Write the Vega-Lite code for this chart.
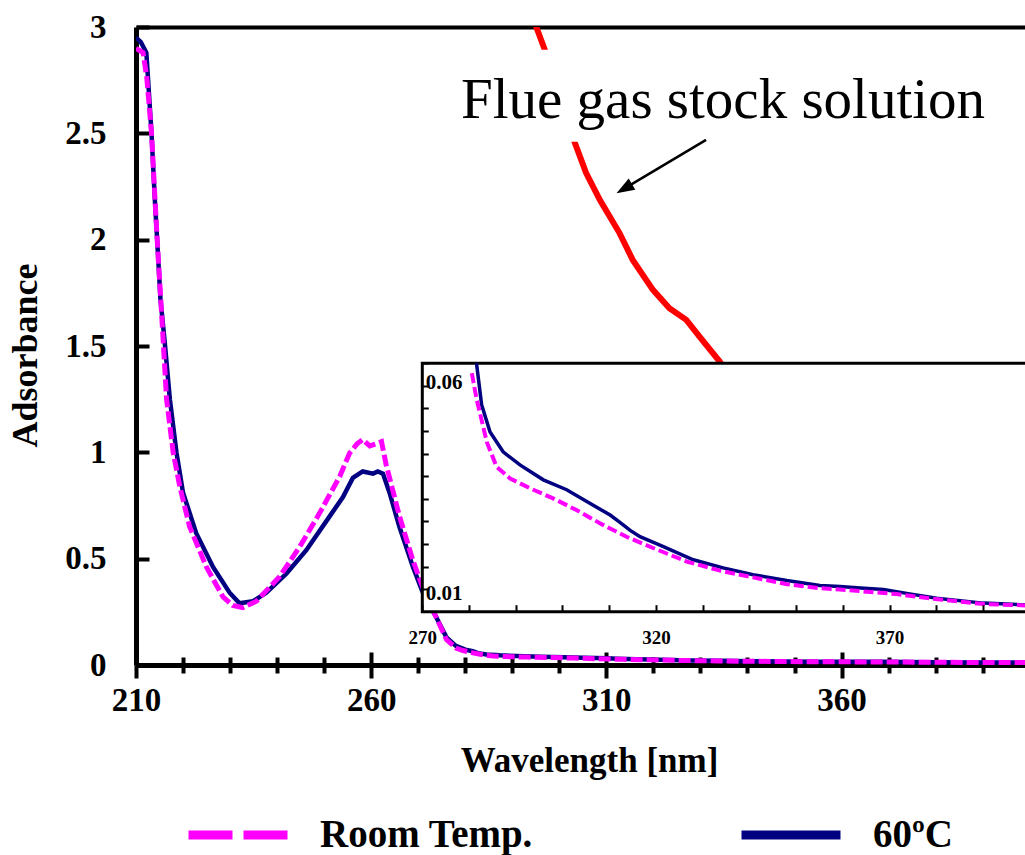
{
  "$schema": "https://vega.github.io/schema/vega-lite/v6.json",
  "width": 889,
  "height": 638,
  "autosize": {"type": "none"},
  "padding": {"left": 136, "top": 27, "right": 0, "bottom": 190},
  "background": "white",
  "config": {
    "view": {"stroke": null},
    "font": "Liberation Serif",
    "axis": {
      "labelFont": "Liberation Serif", "titleFont": "Liberation Serif",
      "labelColor": "black", "titleColor": "black", "domainColor": "black", "tickColor": "black",
      "grid": false, "labelFontWeight": "bold", "titleFontWeight": "bold",
      "labelFlush": false, "labelOverlap": false
    },
    "legend": {
      "orient": "none", "legendX": 48, "legendY": 754, "direction": "horizontal",
      "symbolType": "stroke", "symbolSize": 9801, "symbolStrokeWidth": 9,
      "labelFont": "Liberation Serif", "labelFontWeight": "bold", "labelFontSize": 39, "labelColor": "black",
      "labelOffset": 28, "columnPadding": 189, "labelLimit": 0
    }
  },
  "datasets": {
    "spectra": [
      {"wl": 210, "abs": 2.95, "series": "60ºC"},
      {"wl": 211, "abs": 2.93, "series": "60ºC"},
      {"wl": 212.2, "abs": 2.88, "series": "60ºC"},
      {"wl": 213.3, "abs": 2.5, "series": "60ºC"},
      {"wl": 214.0, "abs": 2.19, "series": "60ºC"},
      {"wl": 214.5, "abs": 2.0, "series": "60ºC"},
      {"wl": 215.2, "abs": 1.72, "series": "60ºC"},
      {"wl": 216.1, "abs": 1.52, "series": "60ºC"},
      {"wl": 217.2, "abs": 1.25, "series": "60ºC"},
      {"wl": 218.6, "abs": 1.0, "series": "60ºC"},
      {"wl": 220.0, "abs": 0.81, "series": "60ºC"},
      {"wl": 222.8, "abs": 0.62, "series": "60ºC"},
      {"wl": 226.4, "abs": 0.46, "series": "60ºC"},
      {"wl": 229.9, "abs": 0.34, "series": "60ºC"},
      {"wl": 232.0, "abs": 0.29, "series": "60ºC"},
      {"wl": 234.9, "abs": 0.3, "series": "60ºC"},
      {"wl": 237.7, "abs": 0.34, "series": "60ºC"},
      {"wl": 242.0, "abs": 0.43, "series": "60ºC"},
      {"wl": 246.2, "abs": 0.54, "series": "60ºC"},
      {"wl": 251.2, "abs": 0.7, "series": "60ºC"},
      {"wl": 254.0, "abs": 0.79, "series": "60ºC"},
      {"wl": 256.1, "abs": 0.88, "series": "60ºC"},
      {"wl": 258.2, "abs": 0.91, "series": "60ºC"},
      {"wl": 260.4, "abs": 0.9, "series": "60ºC"},
      {"wl": 261.4, "abs": 0.91, "series": "60ºC"},
      {"wl": 262.5, "abs": 0.9, "series": "60ºC"},
      {"wl": 263.9, "abs": 0.81, "series": "60ºC"},
      {"wl": 266.0, "abs": 0.65, "series": "60ºC"},
      {"wl": 268.9, "abs": 0.46, "series": "60ºC"},
      {"wl": 271.0, "abs": 0.34, "series": "60ºC"},
      {"wl": 273.7, "abs": 0.23, "series": "60ºC"},
      {"wl": 276.0, "abs": 0.13, "series": "60ºC"},
      {"wl": 278.0, "abs": 0.09, "series": "60ºC"},
      {"wl": 280.0, "abs": 0.072, "series": "60ºC"},
      {"wl": 281.6, "abs": 0.065, "series": "60ºC"},
      {"wl": 282.7, "abs": 0.0558, "series": "60ºC"},
      {"wl": 284.5, "abs": 0.0498, "series": "60ºC"},
      {"wl": 287.3, "abs": 0.0454, "series": "60ºC"},
      {"wl": 290.9, "abs": 0.0425, "series": "60ºC"},
      {"wl": 295.9, "abs": 0.0392, "series": "60ºC"},
      {"wl": 300.9, "abs": 0.037, "series": "60ºC"},
      {"wl": 305.2, "abs": 0.0344, "series": "60ºC"},
      {"wl": 310.2, "abs": 0.0314, "series": "60ºC"},
      {"wl": 312.3, "abs": 0.0298, "series": "60ºC"},
      {"wl": 314.5, "abs": 0.028, "series": "60ºC"},
      {"wl": 316.6, "abs": 0.0266, "series": "60ºC"},
      {"wl": 321.6, "abs": 0.0244, "series": "60ºC"},
      {"wl": 328.0, "abs": 0.0215, "series": "60ºC"},
      {"wl": 334.4, "abs": 0.0197, "series": "60ºC"},
      {"wl": 340.8, "abs": 0.0182, "series": "60ºC"},
      {"wl": 348.0, "abs": 0.0169, "series": "60ºC"},
      {"wl": 355.1, "abs": 0.0158, "series": "60ºC"},
      {"wl": 359.4, "abs": 0.0156, "series": "60ºC"},
      {"wl": 363.0, "abs": 0.0153, "series": "60ºC"},
      {"wl": 368.7, "abs": 0.0149, "series": "60ºC"},
      {"wl": 374.0, "abs": 0.014, "series": "60ºC"},
      {"wl": 380.1, "abs": 0.013, "series": "60ºC"},
      {"wl": 390.1, "abs": 0.0119, "series": "60ºC"},
      {"wl": 399.0, "abs": 0.0115, "series": "60ºC"},
      {"wl": 210, "abs": 2.9, "series": "Room Temp."},
      {"wl": 211.5, "abs": 2.88, "series": "Room Temp."},
      {"wl": 212.3, "abs": 2.76, "series": "Room Temp."},
      {"wl": 213.3, "abs": 2.5, "series": "Room Temp."},
      {"wl": 214.5, "abs": 2.0, "series": "Room Temp."},
      {"wl": 215.4, "abs": 1.67, "series": "Room Temp."},
      {"wl": 216.5, "abs": 1.25, "series": "Room Temp."},
      {"wl": 217.9, "abs": 1.0, "series": "Room Temp."},
      {"wl": 219.3, "abs": 0.84, "series": "Room Temp."},
      {"wl": 221.4, "abs": 0.65, "series": "Room Temp."},
      {"wl": 225.0, "abs": 0.46, "series": "Room Temp."},
      {"wl": 228.5, "abs": 0.32, "series": "Room Temp."},
      {"wl": 230.6, "abs": 0.28, "series": "Room Temp."},
      {"wl": 232.7, "abs": 0.27, "series": "Room Temp."},
      {"wl": 235.6, "abs": 0.3, "series": "Room Temp."},
      {"wl": 240.5, "abs": 0.415, "series": "Room Temp."},
      {"wl": 244.8, "abs": 0.556, "series": "Room Temp."},
      {"wl": 249.0, "abs": 0.713, "series": "Room Temp."},
      {"wl": 253.3, "abs": 0.886, "series": "Room Temp."},
      {"wl": 255.4, "abs": 0.996, "series": "Room Temp."},
      {"wl": 257.0, "abs": 1.04, "series": "Room Temp."},
      {"wl": 258.2, "abs": 1.06, "series": "Room Temp."},
      {"wl": 259.7, "abs": 1.03, "series": "Room Temp."},
      {"wl": 261.0, "abs": 1.04, "series": "Room Temp."},
      {"wl": 262.2, "abs": 1.05, "series": "Room Temp."},
      {"wl": 263.2, "abs": 0.94, "series": "Room Temp."},
      {"wl": 266.0, "abs": 0.7, "series": "Room Temp."},
      {"wl": 268.9, "abs": 0.49, "series": "Room Temp."},
      {"wl": 270.7, "abs": 0.38, "series": "Room Temp."},
      {"wl": 273.7, "abs": 0.23, "series": "Room Temp."},
      {"wl": 276.0, "abs": 0.12, "series": "Room Temp."},
      {"wl": 278.0, "abs": 0.08, "series": "Room Temp."},
      {"wl": 279.5, "abs": 0.068, "series": "Room Temp."},
      {"wl": 280.6, "abs": 0.0628, "series": "Room Temp."},
      {"wl": 281.6, "abs": 0.0572, "series": "Room Temp."},
      {"wl": 283.8, "abs": 0.0476, "series": "Room Temp."},
      {"wl": 285.9, "abs": 0.0421, "series": "Room Temp."},
      {"wl": 288.8, "abs": 0.0395, "series": "Room Temp."},
      {"wl": 293.1, "abs": 0.0373, "series": "Room Temp."},
      {"wl": 298.0, "abs": 0.0351, "series": "Room Temp."},
      {"wl": 303.0, "abs": 0.0325, "series": "Room Temp."},
      {"wl": 308.0, "abs": 0.0296, "series": "Room Temp."},
      {"wl": 313.7, "abs": 0.0266, "series": "Room Temp."},
      {"wl": 319.4, "abs": 0.0241, "series": "Room Temp."},
      {"wl": 326.6, "abs": 0.0211, "series": "Room Temp."},
      {"wl": 333.7, "abs": 0.0191, "series": "Room Temp."},
      {"wl": 340.8, "abs": 0.0176, "series": "Room Temp."},
      {"wl": 348.0, "abs": 0.0161, "series": "Room Temp."},
      {"wl": 355.1, "abs": 0.0152, "series": "Room Temp."},
      {"wl": 359.4, "abs": 0.0149, "series": "Room Temp."},
      {"wl": 364.4, "abs": 0.0145, "series": "Room Temp."},
      {"wl": 371.5, "abs": 0.0139, "series": "Room Temp."},
      {"wl": 380.8, "abs": 0.0127, "series": "Room Temp."},
      {"wl": 390.1, "abs": 0.0117, "series": "Room Temp."},
      {"wl": 399.0, "abs": 0.0114, "series": "Room Temp."}
    ],
    "flue": [
      {"wl": 294.5, "abs": 3.06},
      {"wl": 295.1, "abs": 3.0},
      {"wl": 296.9, "abs": 2.893},
      {"wl": 303.2, "abs": 2.461},
      {"wl": 305.7, "abs": 2.313},
      {"wl": 308.6, "abs": 2.187},
      {"wl": 312.8, "abs": 2.031},
      {"wl": 315.6, "abs": 1.905},
      {"wl": 319.9, "abs": 1.764},
      {"wl": 323.4, "abs": 1.678},
      {"wl": 327.0, "abs": 1.623},
      {"wl": 329.8, "abs": 1.544},
      {"wl": 334.1, "abs": 1.427},
      {"wl": 336.0, "abs": 1.36}
    ],
    "one": [{}]
  },
  "layer": [
    {
      "layer": [
        {
          "data": {"name": "spectra"},
          "transform": [{"filter": "datum.series === '60ºC'"}],
          "mark": {"type": "line", "strokeWidth": 4.5, "clip": true},
          "encoding": {
            "x": {"field": "wl", "type": "quantitative",
              "scale": {"domain": [210, 399], "nice": false, "zero": false},
              "axis": {"orient": "bottom", "values": [210,220,230,240,250,260,270,280,290,300,310,320,330,340,350,360,370,380,390],
                "labelExpr": "(datum.value - 210) % 50 === 0 ? datum.label : ''",
                "tickSize": {"condition": {"test": "(datum.value - 210) % 50 === 0", "value": 13}, "value": 8},
                "tickWidth": 4, "domainWidth": 5, "labelFontSize": 33, "labelPadding": 6,
                "title": "Wavelength [nm]", "titleFontSize": 35, "titlePadding": 26, "titleX": 453}},
            "y": {"field": "abs", "type": "quantitative",
              "scale": {"domain": [0, 3], "nice": false, "zero": false},
              "axis": {"orient": "left", "values": [0, 0.5, 1, 1.5, 2, 2.5, 3], "format": "~g",
                "tickSize": -13, "tickWidth": 4, "domainWidth": 5, "labelFontSize": 33, "labelPadding": 43,
                "title": "Adsorbance", "titleFontSize": 36, "titlePadding": 20, "titleY": 328}},
            "color": {"field": "series", "type": "nominal",
              "scale": {"domain": ["Room Temp.", "60ºC"], "range": ["#FF00FF", "#000080"]}}
          }
        },
        {
          "data": {"name": "spectra"},
          "transform": [{"filter": "datum.series === 'Room Temp.'"}],
          "mark": {"type": "line", "strokeWidth": 5, "strokeDash": [12, 4], "clip": true},
          "encoding": {
            "x": {"field": "wl", "type": "quantitative",
              "scale": {"domain": [210, 399], "nice": false, "zero": false},
              "axis": {"orient": "bottom", "values": [210,220,230,240,250,260,270,280,290,300,310,320,330,340,350,360,370,380,390],
                "tickSize": {"condition": {"test": "(datum.value - 210) % 50 === 0", "value": -13}, "value": -8},
                "tickWidth": 4, "domain": false, "labels": false, "title": null}},
            "y": {"field": "abs", "type": "quantitative", "scale": {"domain": [0, 3], "nice": false, "zero": false}, "axis": null},
            "color": {"field": "series", "type": "nominal",
              "scale": {"domain": ["Room Temp.", "60ºC"], "range": ["#FF00FF", "#000080"]}}
          }
        },
        {
          "data": {"name": "spectra"},
          "transform": [{"filter": "datum.wl < 0"}],
          "mark": {"type": "line", "strokeWidth": 9, "clip": true},
          "encoding": {
            "x": {"field": "wl", "type": "quantitative", "scale": {"domain": [210, 399], "nice": false, "zero": false}, "axis": null},
            "y": {"field": "abs", "type": "quantitative", "scale": {"domain": [0, 3], "nice": false, "zero": false}, "axis": null},
            "color": {"field": "series", "type": "nominal",
              "scale": {"domain": ["Room Temp.", "60ºC"], "range": ["#FF00FF", "#000080"]},
              "legend": {"title": null, "orient": "none", "legendX": 48, "legendY": 754, "direction": "horizontal"}},
            "strokeDash": {"field": "series", "type": "nominal",
              "scale": {"domain": ["Room Temp.", "60ºC"], "range": [[44, 11], [1, 0]]},
              "legend": {"title": null, "orient": "none", "legendX": 48, "legendY": 754, "direction": "horizontal"}}
          }
        },
        {
          "data": {"name": "flue"},
          "mark": {"type": "line", "strokeWidth": 6, "color": "#FF0000", "clip": true},
          "encoding": {
            "x": {"field": "wl", "type": "quantitative",
              "scale": {"domain": [210, 399], "nice": false, "zero": false},
              "axis": {"orient": "top", "ticks": false, "labels": false, "domainWidth": 4, "title": null}},
            "y": {"field": "abs", "type": "quantitative", "scale": {"domain": [0, 3], "nice": false, "zero": false}, "axis": null}
          }
        },
        {
          "data": {"name": "one"},
          "mark": {"type": "rect", "fill": "white"},
          "encoding": {
            "x": {"datum": 279, "type": "quantitative", "scale": {"domain": [210, 399], "nice": false, "zero": false}, "axis": null},
            "x2": {"datum": 391},
            "y": {"datum": 2.46, "type": "quantitative", "scale": {"domain": [0, 3], "nice": false, "zero": false}, "axis": null},
            "y2": {"datum": 2.893}
          }
        },
        {
          "data": {"name": "one"},
          "mark": {"type": "text", "font": "Liberation Serif", "fontSize": 57, "color": "black", "align": "center", "baseline": "alphabetic"},
          "encoding": {
            "x": {"datum": 334.8, "type": "quantitative", "scale": {"domain": [210, 399], "nice": false, "zero": false}, "axis": null},
            "y": {"datum": 2.573, "type": "quantitative", "scale": {"domain": [0, 3], "nice": false, "zero": false}, "axis": null},
            "text": {"value": "Flue gas stock solution"}
          }
        },
        {
          "data": {"name": "one"},
          "mark": {"type": "rule", "strokeWidth": 2.5, "color": "black"},
          "encoding": {
            "x": {"datum": 331.2, "type": "quantitative", "scale": {"domain": [210, 399], "nice": false, "zero": false}, "axis": null},
            "y": {"datum": 2.469, "type": "quantitative", "scale": {"domain": [0, 3], "nice": false, "zero": false}, "axis": null},
            "x2": {"datum": 313.8},
            "y2": {"datum": 2.24}
          }
        },
        {
          "data": {"name": "one"},
          "mark": {"type": "point", "shape": "M0,-1L0.72,1L-0.72,1Z", "filled": true, "color": "black", "opacity": 1, "size": 324, "angle": 239.5},
          "encoding": {
            "x": {"datum": 313.8, "type": "quantitative", "scale": {"domain": [210, 399], "nice": false, "zero": false}, "axis": null},
            "y": {"datum": 2.24, "type": "quantitative", "scale": {"domain": [0, 3], "nice": false, "zero": false}, "axis": null}
          }
        }
      ],
      "resolve": {"axis": {"x": "independent", "y": "independent"}}
    },
    {
      "layer": [
        {
          "data": {"name": "one"},
          "mark": {"type": "rect", "fill": "white", "stroke": "black", "strokeWidth": 3, "clip": true},
          "encoding": {
            "x": {"datum": 270, "type": "quantitative",
              "scale": {"domain": [270, 399], "range": [286.3, 889], "nice": false, "zero": false},
              "axis": {"orient": "bottom", "offset": -53.3, "values": [270,280,290,300,310,320,330,340,350,360,370,380,390],
                "labelExpr": "(datum.value - 270) % 50 === 0 ? datum.label : ''",
                "tickSize": -7, "tickWidth": 2, "domain": false, "labelFontSize": 19, "labelPadding": 24,
                "title": null, "zindex": 1}},
            "x2": {"datum": 402},
            "y": {"datum": 0.01, "type": "quantitative",
              "scale": {"domain": [0.01, 0.065], "range": [584.7, 336.3], "nice": false, "zero": false},
              "axis": {"orient": "left", "offset": -286.3,
                "values": [0.015,0.02,0.025,0.03,0.035,0.04,0.045,0.05,0.055,0.06,0.065], "format": "~g",
                "labelExpr": "abs(datum.value - 0.06) < 0.0001 ? datum.label : ''",
                "tickSize": -6, "tickWidth": 2, "domain": false, "labelFontSize": 21, "labelPadding": 3,
                "labelAlign": "left", "labelOffset": -3,
                "title": null, "zindex": 1}},
            "y2": {"datum": 0.065}
          }
        },
        {
          "data": {"name": "spectra"},
          "transform": [{"filter": "datum.series === '60ºC' && datum.wl >= 270 && datum.abs <= 0.0656"}],
          "mark": {"type": "line", "strokeWidth": 3.5, "color": "#000080", "clip": true},
          "encoding": {
            "x": {"field": "wl", "type": "quantitative",
              "scale": {"domain": [270, 399], "range": [286.3, 889], "nice": false, "zero": false}, "axis": null},
            "y": {"field": "abs", "type": "quantitative",
              "scale": {"domain": [0.01, 0.065], "range": [584.7, 336.3], "nice": false, "zero": false},
              "axis": {"orient": "left", "offset": -286.3, "values": [0.01], "format": "~g",
                "ticks": false, "domain": false, "labelFontSize": 21, "labelPadding": -3,
                "labelAlign": "left", "labelOffset": -18, "title": null, "zindex": 1}}
          }
        },
        {
          "data": {"name": "spectra"},
          "transform": [{"filter": "datum.series === 'Room Temp.' && datum.wl >= 270 && datum.abs <= 0.0656"}],
          "mark": {"type": "line", "strokeWidth": 4, "color": "#FF00FF", "strokeDash": [10, 4], "clip": true},
          "encoding": {
            "x": {"field": "wl", "type": "quantitative",
              "scale": {"domain": [270, 399], "range": [286.3, 889], "nice": false, "zero": false}, "axis": null},
            "y": {"field": "abs", "type": "quantitative",
              "scale": {"domain": [0.01, 0.065], "range": [584.7, 336.3], "nice": false, "zero": false}, "axis": null}
          }
        }
      ],
      "resolve": {"axis": {"x": "independent", "y": "independent"}}
    }
  ],
  "resolve": {"scale": {"x": "independent", "y": "independent"}, "axis": {"x": "independent", "y": "independent"}}
}
